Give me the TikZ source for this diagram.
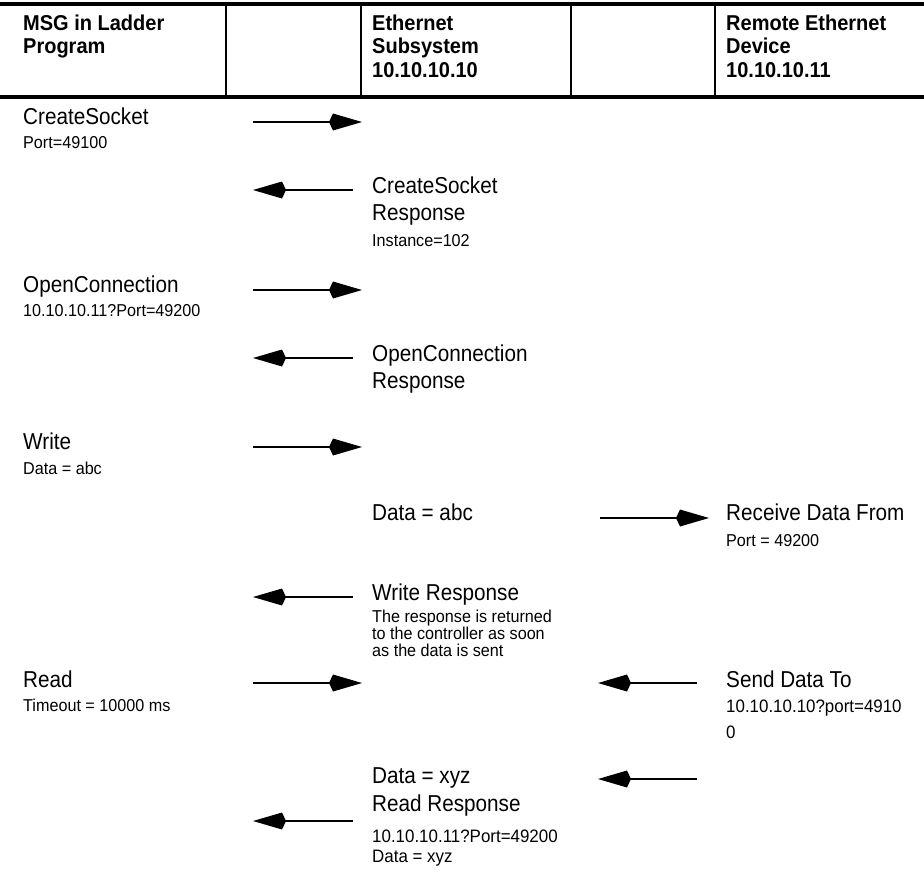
\documentclass[tikz,border=0pt]{standalone}
\usepackage{fontspec}
\setmainfont{Liberation Sans}
\newfontfamily\fHdr[FakeStretch=0.93]{Liberation Sans}
\newfontfamily\fBig[FakeStretch=0.9]{Liberation Sans}
\newfontfamily\fSml[FakeStretch=0.94]{Liberation Sans}
\usetikzlibrary{arrows.meta}
\tikzset{
  txhdr/.style={anchor=base west, inner sep=0pt, font=\fHdr\bfseries\fontsize{21.5}{23}\selectfont},
  txbig/.style={anchor=base west, inner sep=0pt, font=\fBig\fontsize{23}{28}\selectfont},
  txsml/.style={anchor=base west, inner sep=0pt, font=\fSml\fontsize{17.2}{19}\selectfont},
  txmid/.style={anchor=base west, inner sep=0pt, font=\fSml\fontsize{18}{21}\selectfont},
  rulethick/.style={line width=3.5pt},
  rulethin/.style={line width=1.6pt},
  msgarrow/.style={line width=1.6pt, -{Kite[length=33pt, width=17pt, inset=4pt]}},
}
\begin{document}
\begin{tikzpicture}[x=1pt, y=-1pt]
\useasboundingbox (0,0) rectangle (924,871);
% header rules
\coordinate (rtl) at (0,4);   \coordinate (rtr) at (924,4);
\coordinate (rbl) at (0,97);  \coordinate (rbr) at (924,97);
\draw[rulethick] (rtl) -- (rtr);
\draw[rulethick] (rbl) -- (rbr);
\foreach \xx/\nm in {226/v1, 361/v2, 571/v3, 715/v4}{
  \coordinate (\nm t) at (\xx,4); \coordinate (\nm b) at (\xx,97);
  \draw[rulethin] (\nm t) -- (\nm b);
}
% header texts
\node[txhdr] (h1a) at (23,30.5) {MSG in Ladder};
\node[txhdr] (h1b) at (23,53.5) {Program};
\node[txhdr] (h2a) at (372,30.5) {Ethernet};
\node[txhdr] (h2b) at (372,53.5) {Subsystem};
\node[txhdr] (h2c) at (372,77) {10.10.10.10};
\node[txhdr] (h3a) at (726,30.5) {Remote Ethernet};
\node[txhdr] (h3b) at (726,53.5) {Device};
\node[txhdr] (h3c) at (726,77) {10.10.10.11};
% A: CreateSocket
\node[txbig] (a1) at (23,124) {CreateSocket};
\node[txsml] (a2) at (23,148) {Port=49100};
\coordinate (aS) at (253,122); \coordinate (aE) at (362,122);
\draw[msgarrow] (aS) -- (aE);
% B: CreateSocket Response
\coordinate (bS) at (353,190); \coordinate (bE) at (253,190);
\draw[msgarrow] (bS) -- (bE);
\node[txbig] (b1) at (372,193) {CreateSocket};
\node[txbig] (b2) at (372,220) {Response};
\node[txsml] (b3) at (372,246) {Instance=102};
% C: OpenConnection
\node[txbig] (c1) at (23,292) {OpenConnection};
\node[txsml] (c2) at (23,316) {10.10.10.11?Port=49200};
\coordinate (cS) at (253,290); \coordinate (cE) at (362,290);
\draw[msgarrow] (cS) -- (cE);
% D: OpenConnection Response
\coordinate (dS) at (353,358); \coordinate (dE) at (253,358);
\draw[msgarrow] (dS) -- (dE);
\node[txbig] (d1) at (372,361) {OpenConnection};
\node[txbig] (d2) at (372,388) {Response};
% E: Write
\node[txbig] (e1) at (23,449) {Write};
\node[txsml] (e2) at (23,474) {Data = abc};
\coordinate (eS) at (253,447); \coordinate (eE) at (362,447);
\draw[msgarrow] (eS) -- (eE);
% F: Data = abc -> Receive Data From
\node[txbig] (f1) at (372,520) {Data = abc};
\coordinate (fS) at (600,518); \coordinate (fE) at (709,518);
\draw[msgarrow] (fS) -- (fE);
\node[txbig] (f2) at (726,520) {Receive Data From};
\node[txsml] (f3) at (726,546) {Port = 49200};
% G: Write Response
\coordinate (gS) at (353,597); \coordinate (gE) at (253,597);
\draw[msgarrow] (gS) -- (gE);
\node[txbig] (g1) at (372,600) {Write Response};
\node[txsml] (g2) at (372,622) {The response is returned};
\node[txsml] (g3) at (372,639) {to the controller as soon};
\node[txsml] (g4) at (372,656) {as the data is sent};
% H: Read / Send Data To
\node[txbig] (h1) at (23,687) {Read};
\node[txsml] (h2) at (23,711) {Timeout = 10000 ms};
\coordinate (hS) at (253,683); \coordinate (hE) at (362,683);
\draw[msgarrow] (hS) -- (hE);
\coordinate (sS) at (697,683); \coordinate (sE) at (598,683);
\draw[msgarrow] (sS) -- (sE);
\node[txbig] (s1) at (726,687) {Send Data To};
\node[txmid] (s2) at (726,712) {10.10.10.10?port=4910};
\node[txmid] (s3) at (726,738) {0};
% I: Data = xyz / Read Response
\coordinate (xS) at (697,779); \coordinate (xE) at (598,779);
\draw[msgarrow] (xS) -- (xE);
\node[txbig] (i1) at (372,783) {Data = xyz};
\node[txbig] (i2) at (372,811) {Read Response};
\node[txmid] (i3) at (372,842) {10.10.10.11?Port=49200};
\node[txmid] (i4) at (372,862) {Data = xyz};
\coordinate (jS) at (353,821); \coordinate (jE) at (253,821);
\draw[msgarrow] (jS) -- (jE);
\end{tikzpicture}
\end{document}
